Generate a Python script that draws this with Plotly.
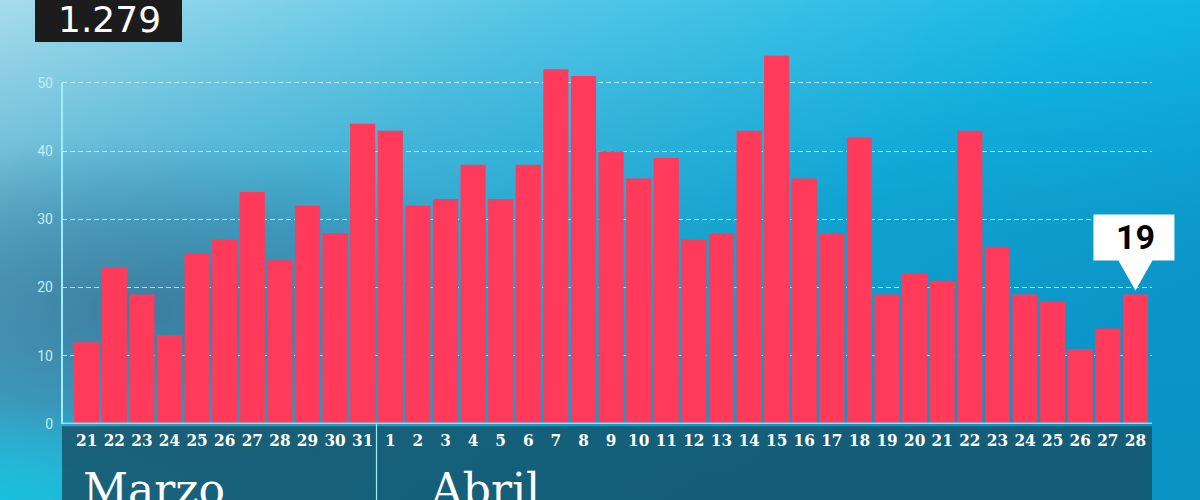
"""
Daily deaths, 21 March - 28 April, TV-graphic style bar chart.
"""
import base64
import plotly.graph_objects as go

TOTAL = "1.279"

MARZO_DAYS = ["21", "22", "23", "24", "25", "26", "27", "28", "29", "30", "31"]
ABRIL_DAYS = [str(d) for d in range(1, 29)]
MARZO_VALUES = [12, 23, 19, 13, 25, 27, 34, 24, 32, 28, 44]
ABRIL_VALUES = [43, 32, 33, 38, 33, 38, 52, 51, 40, 36, 39, 27, 28, 43,
                54, 36, 28, 42, 19, 22, 21, 43, 26, 19, 18, 11, 14, 19]
Y_TICKS = [0, 10, 20, 30, 40, 50]
MONTHS = ["Marzo", "Abril"]

BAR_COLOR = "#ff3a5a"
GRID_COLOR = "rgba(205,242,255,0.8)"
AXIS_COLOR = "#9eeefc"
BAND_COLOR = "rgba(22,82,104,0.82)"

days = MARZO_DAYS + ABRIL_DAYS
values = MARZO_VALUES + ABRIL_VALUES
xs = list(range(len(days)))
split = len(MARZO_DAYS) - 0.5
x_range = [-0.895, len(days) - 0.4]

# background gradient as an svg image
bg_svg = """<svg xmlns='http://www.w3.org/2000/svg' width='1200' height='500' viewBox='0 0 1200 500' preserveAspectRatio='none'>
<defs>
<linearGradient id='g' x1='0' y1='0' x2='1' y2='0.6'>
<stop offset='0' stop-color='#a8dcec'/>
<stop offset='0.35' stop-color='#52c6e6'/>
<stop offset='0.7' stop-color='#12b8e6'/>
<stop offset='1' stop-color='#0aa8de'/>
</linearGradient>
<linearGradient id='v' x1='0' y1='0' x2='0' y2='1'>
<stop offset='0' stop-color='#0b5f8a' stop-opacity='0'/>
<stop offset='0.45' stop-color='#0b5f8a' stop-opacity='0.25'/>
<stop offset='1' stop-color='#0b5f8a' stop-opacity='0.3'/>
</linearGradient>
<radialGradient id='d' cx='0.12' cy='0.62' r='0.35'>
<stop offset='0' stop-color='#3d6f8e' stop-opacity='0.75'/>
<stop offset='1' stop-color='#3d6f8e' stop-opacity='0'/>
</radialGradient>
<radialGradient id='c' cx='0.0' cy='1.0' r='0.2'>
<stop offset='0' stop-color='#18c4e0' stop-opacity='0.9'/>
<stop offset='1' stop-color='#18c4e0' stop-opacity='0'/>
</radialGradient>
</defs>
<rect width='1200' height='500' fill='url(#g)'/>
<rect width='1200' height='500' fill='url(#v)'/>
<rect width='1200' height='500' fill='url(#d)'/>
<rect width='1200' height='500' fill='url(#c)'/>
</svg>"""
bg_src = "data:image/svg+xml;base64," + base64.b64encode(bg_svg.encode()).decode()

W, H = 1200, 500
ML, MR, MT, MB = 62, 48, 42, 76
pw, ph = W - ML - MR, H - MT - MB

last_px = (xs[-1] - x_range[0]) / (x_range[1] - x_range[0])

fig = go.Figure()
fig.add_trace(go.Bar(
    x=xs, y=values,
    marker=dict(color=BAR_COLOR, line=dict(width=0)),
    hoverinfo="skip",
))

shapes = [
    # dark band under the axis
    dict(type="rect", xref="paper", yref="paper", x0=0, x1=1,
         y0=-MB / ph - 0.01, y1=-0.006, fillcolor=BAND_COLOR,
         line=dict(width=0), layer="below"),
    # month separator
    dict(type="line", xref="x", yref="paper", x0=split, x1=split,
         y0=-MB / ph - 0.01, y1=0, line=dict(color=AXIS_COLOR, width=1.2)),
    # baseline
    dict(type="line", xref="paper", yref="y", x0=0, x1=1, y0=0, y1=0,
         line=dict(color="#7fe4fb", width=3)),
    # y axis line (0 to 50)
    dict(type="line", xref="paper", yref="y", x0=0, x1=0,
         y0=Y_TICKS[0], y1=Y_TICKS[-1], line=dict(color=AXIS_COLOR, width=2)),
    # total box
    dict(type="rect", xref="paper", yref="paper",
         x0=(35 - ML) / pw, x1=(182 - ML) / pw, y0=1.0, y1=1 + MT / ph + 0.02,
         fillcolor="#1c1c1c", line=dict(width=0)),
    # callout on the last bar
    dict(type="path", xref="paper", yref="y",
         xsizemode="pixel", ysizemode="pixel",
         xanchor=last_px, yanchor=values[-1],
         path="M -42,34 L -42,80 L 39,80 L 39,34 L 17,34 L 0,4 L -17,34 Z",
         fillcolor="white", line=dict(width=0)),
]

annotations = [
    dict(text=TOTAL, xref="paper", yref="paper",
         x=(109 - ML) / pw, y=1 + 23 / ph, xanchor="center", yanchor="middle",
         showarrow=False, font=dict(family="DejaVu Sans", size=36, color="white")),
    dict(text=str(values[-1]), xref="paper", yref="y", x=last_px, y=values[-1],
         yshift=57, xanchor="center", yanchor="middle", showarrow=False,
         font=dict(family="Roboto", size=34, color="black", weight="bold")),
    dict(text=MONTHS[0], xref="x", yref="paper", x=-0.2, y=-MB / ph,
         xanchor="left", yanchor="bottom", yshift=-17, showarrow=False,
         font=dict(family="DejaVu Serif", size=44, color="white")),
    dict(text=MONTHS[1], xref="x", yref="paper", x=split + 1.85, y=-MB / ph,
         xanchor="left", yanchor="bottom", yshift=-17, showarrow=False,
         font=dict(family="DejaVu Serif", size=44, color="white")),
]

fig.update_layout(
    width=W, height=H,
    margin=dict(l=ML, r=MR, t=MT, b=MB),
    paper_bgcolor="rgba(0,0,0,0)",
    plot_bgcolor="rgba(0,0,0,0)",
    showlegend=False,
    bargap=0.09,
    shapes=shapes,
    annotations=annotations,
    images=[dict(source=bg_src, xref="paper", yref="paper",
                 x=-ML / pw, y=1 + MT / ph, sizex=W / pw, sizey=H / ph,
                 xanchor="left", yanchor="top", sizing="stretch",
                 layer="below")],
)
fig.update_xaxes(
    range=x_range,
    tickmode="array", tickvals=xs, ticktext=days,
    tickfont=dict(family="DejaVu Serif Condensed, DejaVu Serif", size=17,
                  color="white", weight="bold"),
    showgrid=False, zeroline=False, showline=False, ticks="",
    ticklabelstandoff=4,
)
fig.update_yaxes(
    range=[0, 56],
    tickmode="array", tickvals=Y_TICKS,
    tickfont=dict(family="Roboto", size=14, color="#c4ecf7"),
    showgrid=True, gridcolor=GRID_COLOR, griddash="5px,3px", gridwidth=1,
    zeroline=False, showline=False, ticks="", ticklabelstandoff=8,
)

fig.write_html(
    "out.html",
    config={"displayModeBar": False},
    post_script="document.body.style.margin='0';document.body.style.overflow='hidden';",
)
